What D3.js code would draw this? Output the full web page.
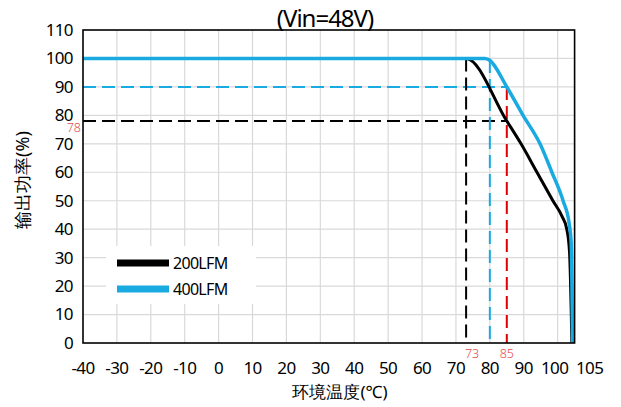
<!DOCTYPE html>
<html>
<head>
<meta charset="utf-8">
<script src="https://cdn.jsdelivr.net/npm/d3@7"></script>
<style>
  body { margin: 0; background: #fff; }
  text { font-family: "Noto Sans", sans-serif; }
</style>
</head>
<body>
<div id="chart"></div>
<script>
// derating curves
const temp200 = [-40, 73, 85, 89.2, 93.9, 98.6, 101.3, 102.7, 103.5, 104.2]
const power200 = [100, 100, 78, 70, 60, 50, 44.5, 40, 32, 0]
const temp400 = [-40, 78.5, 79.8, 85, 89.8, 94.8, 98.3, 101.6, 103.4, 104, 104.4]
const power400 = [100, 100, 99.5, 90, 80, 70, 60, 50, 42, 35, 0]

const xTicks = [-40, -30, -20, -10, 0, 10, 20, 30, 40, 50, 60, 70, 80, 90, 100, 105]
const yTicks = [0, 10, 20, 30, 40, 50, 60, 70, 80, 90, 100, 110]

// marker lines: [x1, y1, x2, y2, colour]
const refLines = [
  [-40, 78, 85, 78, "#000"],
  [-40, 90, 85, 90, "#1aaae2"],
  [73, 100, 73, 0, "#000"],
  [80, 99.5, 80, 0, "#1aaae2"],
  [85, 90, 85, 0, "#e00000"]
]
const markLabels = [
  { axis: "y", v: 78, text: "78" },
  { axis: "x", v: 73, text: "73" },
  { axis: "x", v: 85, text: "85" }
]

const width = 621
const height = 407
const plotLeft = 83, plotRight = 574.6, plotTop = 30, plotBottom = 343

const svg = d3.select("#chart")
  .append("svg")
    .attr("width", width)
    .attr("height", height)

const x = d3.scaleLinear().domain([-40, 105]).range([plotLeft, plotRight])
const y = d3.scaleLinear().domain([0, 110]).range([plotBottom, plotTop])

// grid
svg.append("g")
  .selectAll("line")
  .data(xTicks.filter(d => d > -40 && d < 105))
  .join("line")
    .attr("x1", d => x(d)).attr("x2", d => x(d))
    .attr("y1", plotTop).attr("y2", plotBottom)
    .attr("stroke", "#d9d9d9").attr("stroke-width", 1.2)
svg.append("g")
  .selectAll("line")
  .data(yTicks.filter(d => d > 0 && d < 110))
  .join("line")
    .attr("x1", plotLeft).attr("x2", plotRight)
    .attr("y1", d => y(d)).attr("y2", d => y(d))
    .attr("stroke", "#d9d9d9").attr("stroke-width", 1.2)

// dashed markers
svg.append("g")
  .selectAll("line")
  .data(refLines)
  .join("line")
    .attr("x1", d => x(d[0])).attr("y1", d => y(d[1]))
    .attr("x2", d => x(d[2])).attr("y2", d => y(d[3]))
    .attr("stroke", d => d[4])
    .attr("stroke-width", 2)
    .attr("stroke-dasharray", "13,6")

// curves
const line = d3.line()
  .x(d => x(d[0]))
  .y(d => y(d[1]))
  .curve(d3.curveMonotoneX)

svg.append("path")
  .datum(d3.zip(temp200, power200))
  .attr("d", line)
  .attr("fill", "none")
  .attr("stroke", "#000")
  .attr("stroke-width", 3)

svg.append("path")
  .datum(d3.zip(temp400, power400))
  .attr("d", line)
  .attr("fill", "none")
  .attr("stroke", "#1aaae2")
  .attr("stroke-width", 3.5)

// frame
svg.append("rect")
  .attr("x", plotLeft).attr("y", plotTop)
  .attr("width", plotRight - plotLeft).attr("height", plotBottom - plotTop)
  .attr("fill", "none")
  .attr("stroke", "#000")
  .attr("stroke-width", 1.6)

// tick labels
svg.append("g")
  .selectAll("text")
  .data(yTicks)
  .join("text")
    .attr("x", plotLeft - 10)
    .attr("y", d => y(d))
    .attr("dy", "0.35em")
    .attr("text-anchor", "end")
    .attr("font-size", 17)
    .attr("letter-spacing", -0.6)
    .text(d => d)

svg.append("g")
  .selectAll("text")
  .data(xTicks)
  .join("text")
    .attr("x", d => x(d) + (d === 105 ? 15 : d === 100 ? -3 : 0))
    .attr("y", 374)
    .attr("text-anchor", "middle")
    .attr("font-size", 17)
    .attr("letter-spacing", -0.6)
    .text(d => d)

// red marker labels
svg.append("g")
  .selectAll("text")
  .data(markLabels)
  .join("text")
    .attr("x", d => d.axis === "x" ? x(d.v) + (d.v === 73 ? 6 : 0) : plotLeft - 2)
    .attr("y", d => d.axis === "x" ? 358 : y(d.v) + 11)
    .attr("text-anchor", d => d.axis === "x" ? "middle" : "end")
    .attr("font-size", 12.5)
    .attr("font-weight", 300)
    .attr("fill", "#e8474b")
    .text(d => d.text)

// titles
svg.append("text")
  .attr("x", 325).attr("y", 27)
  .attr("text-anchor", "middle")
  .attr("font-size", 24)
  .attr("letter-spacing", -1)
  .text("(Vin=48V)")

svg.append("text")
  .attr("x", 340).attr("y", 398)
  .attr("text-anchor", "middle")
  .attr("font-size", 17)
  .attr("font-family", "Noto Sans CJK SC")
  .text("环境温度(℃)")

svg.append("text")
  .attr("transform", "translate(29,180) rotate(-90)")
  .attr("text-anchor", "middle")
  .attr("font-size", 18)
  .attr("font-family", "Noto Sans CJK SC")
  .text("输出功率(%)")

// legend
const legend = svg.append("g")
legend.append("rect")
  .attr("x", 106).attr("y", 246)
  .attr("width", 150).attr("height", 58)
  .attr("fill", "#fff")
const legendItems = [["200LFM", "#000"], ["400LFM", "#1aaae2"]]
legendItems.forEach((d, i) => {
  legend.append("line")
    .attr("x1", 117).attr("x2", 169)
    .attr("y1", 263 + i * 26).attr("y2", 263 + i * 26)
    .attr("stroke", d[1]).attr("stroke-width", 7)
  legend.append("text")
    .attr("x", 173).attr("y", 263 + i * 26)
    .attr("dy", "0.35em")
    .attr("font-size", 16)
    .attr("letter-spacing", -0.7)
    .text(d[0])
})
</script>
</body>
</html>
